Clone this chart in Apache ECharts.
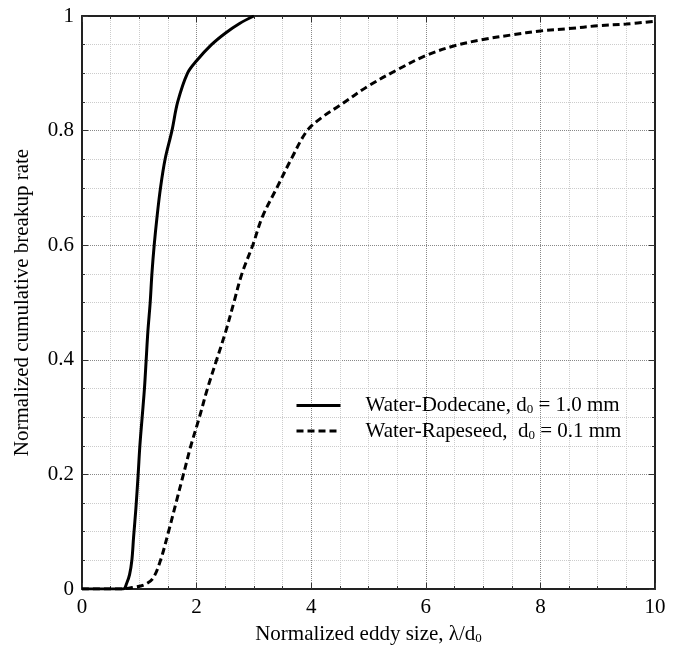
<!DOCTYPE html>
<html>
<head>
<meta charset="utf-8">
<script src="https://cdn.jsdelivr.net/npm/echarts@6/dist/echarts.min.js"></script>
<style>html,body{margin:0;padding:0;background:#fff;}#c{width:673px;height:646px;}</style>
</head>
<body>
<div id="c"></div>
<script>
const xTicks = [0, 2, 4, 6, 8, 10];
const yTicks = [0, 0.2, 0.4, 0.6, 0.8, 1];
const seriesNames = ['Water-Dodecane', 'Water-Rapeseed'];
const seriesD0 = ['1.0 mm', '0.1 mm'];
const dodecaneX = [0, 0.72, 0.78, 0.83, 0.87, 0.9, 0.94, 0.98, 1.01, 1.05, 1.09, 1.12, 1.15, 1.19, 1.22, 1.26, 1.31, 1.37, 1.45, 1.57, 1.67, 1.84, 2.0, 2.26, 2.5, 2.75, 3.0];
const dodecaneY = [0, 0, 0.01, 0.025, 0.05, 0.09, 0.14, 0.2, 0.25, 0.3, 0.35, 0.4, 0.45, 0.5, 0.55, 0.6, 0.65, 0.7, 0.75, 0.8, 0.85, 0.9, 0.922, 0.95, 0.97, 0.987, 1.0];
const rapeseedX = [0, 0.66, 0.9, 1.1, 1.24, 1.37, 1.51, 1.64, 1.77, 1.9, 2.05, 2.19, 2.35, 2.51, 2.65, 2.79, 2.98, 3.15, 3.4, 3.65, 3.93, 4.2, 4.5, 5, 5.5, 6, 6.5, 7, 7.5, 8, 8.5, 9, 9.5, 10];
const rapeseedY = [0, 0, 0.003, 0.008, 0.019, 0.05, 0.1, 0.15, 0.2, 0.25, 0.3, 0.35, 0.4, 0.45, 0.5, 0.55, 0.6, 0.65, 0.7, 0.75, 0.8, 0.824, 0.844, 0.878, 0.906, 0.931, 0.948, 0.959, 0.967, 0.974, 0.978, 0.983, 0.986, 0.991];

const FONT = 'Liberation Serif';
const zip = (a, b) => a.map((v, i) => [v, b[i]]);
const legendLabel = {};
seriesNames.forEach((n, i) => {
  legendLabel[n] = (i === 0 ? '{t|' + n + ', d}' : '{t|' + n + ',  d}') + '{s|0}{t| = ' + seriesD0[i] + '}';
});
const richText = {
  t: { fontFamily: FONT, fontSize: 21, color: '#000' },
  s: { fontFamily: FONT, fontSize: 13, color: '#000', verticalAlign: 'bottom', padding: [9, 0, 0, 0] }
};

function mkX(idx) {
  const main = idx === 0;
  return {
    type: 'value', min: xTicks[0], max: xTicks[xTicks.length - 1], interval: 2,
    position: main ? 'bottom' : 'top',
    axisLine: { show: true, onZero: false, lineStyle: { color: '#222', width: 2 } },
    axisTick: { show: true, inside: true, length: 6, lineStyle: { color: '#333' } },
    minorTick: { show: true, splitNumber: 4, length: 3, lineStyle: { color: '#333' } },
    axisLabel: main ? { show: true, color: '#000', fontFamily: FONT, fontSize: 21, margin: 8 } : { show: false },
    splitLine: { show: main, lineStyle: { color: '#888', type: 'dotted', width: 1 } },
    minorSplitLine: { show: main, lineStyle: { color: '#ccc', type: 'dotted', width: 1 } },
    name: main ? '{t|Normalized eddy size, λ/d}{s|0}' : '',
    nameLocation: 'middle', nameGap: 34,
    nameTextStyle: { rich: richText }
  };
}
function mkY(idx) {
  const main = idx === 0;
  return {
    type: 'value', min: yTicks[0], max: yTicks[yTicks.length - 1], interval: 0.2,
    position: main ? 'left' : 'right',
    axisLine: { show: true, onZero: false, lineStyle: { color: '#222', width: 2 } },
    axisTick: { show: true, inside: true, length: 6, lineStyle: { color: '#333' } },
    minorTick: { show: true, splitNumber: 4, length: 3, lineStyle: { color: '#333' } },
    axisLabel: main ? { show: true, color: '#000', fontFamily: FONT, fontSize: 21, margin: 8 } : { show: false },
    splitLine: { show: main, lineStyle: { color: '#888', type: 'dotted', width: 1 } },
    minorSplitLine: { show: main, lineStyle: { color: '#ccc', type: 'dotted', width: 1 } },
    name: main ? 'Normalized cumulative breakup rate' : '',
    nameLocation: 'middle', nameGap: 49,
    nameTextStyle: { fontFamily: FONT, fontSize: 21, color: '#000' }
  };
}

const chart = echarts.init(document.getElementById('c'), null, { renderer: 'canvas' });
chart.setOption({
  backgroundColor: '#fff',
  animation: false,
  grid: { left: 82, right: 18, top: 16, bottom: 57, containLabel: false, outerBoundsMode: 'none' },
  xAxis: [mkX(0), mkX(1)],
  yAxis: [mkY(0), mkY(1)],
  legend: {
    orient: 'vertical', left: 295, top: 395, padding: 0,
    itemWidth: 44, itemHeight: 20, itemGap: 4,
    data: seriesNames,
    formatter: n => legendLabel[n],
    itemStyle: { opacity: 0 },
    lineStyle: { width: 3 },
    textStyle: { padding: [0, 0, 0, 20], rich: richText }
  },
  series: [
    {
      name: seriesNames[0], type: 'line', xAxisIndex: 0, yAxisIndex: 0,
      data: zip(dodecaneX, dodecaneY), showSymbol: false, symbol: 'none',
      smooth: 0.35,
      lineStyle: { color: '#000', width: 3, type: 'solid' }, itemStyle: { color: '#000' }
    },
    {
      name: seriesNames[1], type: 'line', xAxisIndex: 0, yAxisIndex: 0,
      data: zip(rapeseedX, rapeseedY), showSymbol: false, symbol: 'none',
      smooth: 0.35,
      lineStyle: { color: '#000', width: 3, type: [7, 4] }, itemStyle: { color: '#000' }
    }
  ]
});
</script>
</body>
</html>
